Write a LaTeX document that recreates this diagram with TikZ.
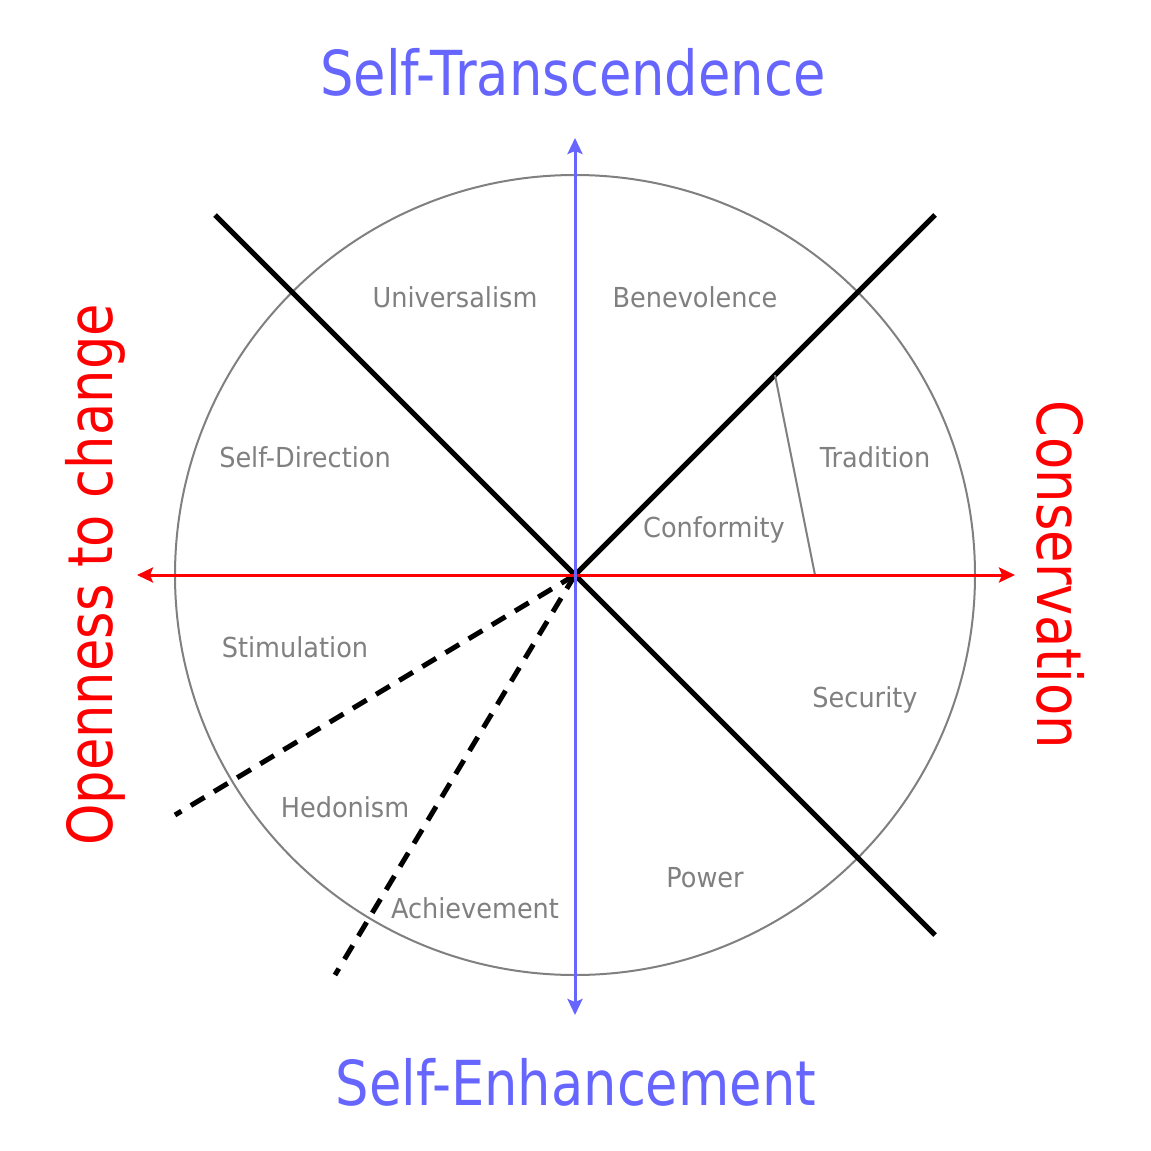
\documentclass[tikz,border=0pt]{standalone}
\usepackage{fontspec}
\usetikzlibrary{arrows.meta}
\newfontfamily\labfont[FakeStretch=0.93]{DejaVu Sans}
\newfontfamily\titlefont[FakeStretch=0.85]{DejaVu Sans}
\definecolor{axblue}{HTML}{6666FF}
\definecolor{axred}{HTML}{FF0000}
\definecolor{labgray}{HTML}{808080}
\tikzset{
  valuelabel/.style={font=\labfont\fontsize{27.5}{30}\selectfont, text=labgray, anchor=base, inner sep=0pt},
  titlelabel/.style={font=\titlefont\fontsize{62}{66}\selectfont, anchor=base, inner sep=0pt},
  axtip/.style={Stealth[length=16pt,width=15pt,inset=3pt]},
  blueaxis/.style={draw=axblue, line width=3pt, {Stealth[length=16pt,width=15pt,inset=3pt]}-{Stealth[length=16pt,width=15pt,inset=3pt]}},
  redaxis/.style={draw=axred, line width=3pt, {Stealth[length=16pt,width=15pt,inset=3pt]}-{Stealth[length=16pt,width=15pt,inset=3pt]}},
  divider/.style={draw=black, line width=5pt},
  dashdivider/.style={draw=black, line width=5pt, dash pattern=on 16pt off 11pt},
  thindivider/.style={draw=labgray, line width=2pt},
}
\begin{document}
\begin{tikzpicture}[x=1pt,y=-1pt]
\useasboundingbox (0,0) rectangle (1151,1151);
\fill[white] (0,0) rectangle (1151,1151);
\coordinate (O) at (575,575);
\coordinate (topend) at (575,138);
\coordinate (botend) at (575,1015);
\coordinate (leftend) at (137,575);
\coordinate (rightend) at (1015,575);
\coordinate (nw) at (215,215);
\coordinate (se) at (935,935);
\coordinate (ne) at (935,215);
\coordinate (dA) at (175,815);
\coordinate (dB) at (335,975);
\coordinate (cfA) at (775,375);
\coordinate (cfB) at (815,575);
% circle
\draw[labgray, line width=2pt] (O) circle[radius=400];
% dividers
\draw[divider] (nw) -- (se);
\draw[divider] (ne) -- (O);
\draw[dashdivider] (O) -- (dA);
\draw[dashdivider] (O) -- (dB);
\draw[thindivider] (cfA) -- (cfB);
% axes
\draw[redaxis] (leftend) -- (rightend);
\draw[blueaxis] (botend) -- (topend);
% value labels
\node[valuelabel] (univ) at (455,307) {Universalism};
\node[valuelabel] (bene) at (695,307) {Benevolence};
\node[valuelabel] (sdir) at (305,467) {Self-Direction};
\node[valuelabel] (trad) at (875,467) {Tradition};
\node[valuelabel] (conf) at (714,537) {Conformity};
\node[valuelabel] (stim) at (295,657) {Stimulation};
\node[valuelabel] (secu) at (865,707) {Security};
\node[valuelabel] (hedo) at (345,817) {Hedonism};
\node[valuelabel] (powr) at (705,887) {Power};
\node[valuelabel] (achi) at (475,918) {Achievement};
% titles
\node[titlelabel, text=axblue] (st) at (573,95) {Self-Transcendence};
\node[titlelabel, text=axblue] (se2) at (576,1105) {Self-Enhancement};
\node[titlelabel, text=axred, rotate=90] (open) at (112,575) {Openness to change};
\node[titlelabel, text=axred, rotate=-90] (cons) at (1037,575) {Conservation};
\end{tikzpicture}
\end{document}
